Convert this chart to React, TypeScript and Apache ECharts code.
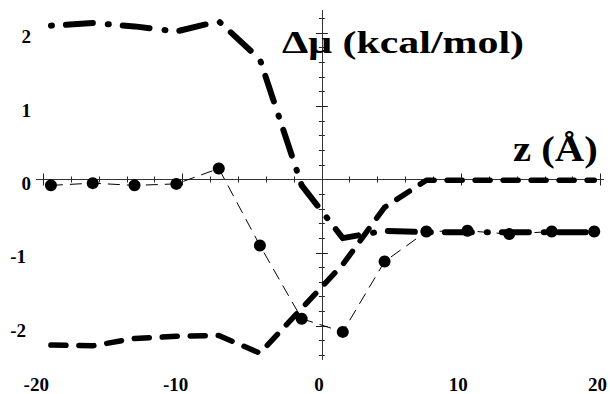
import React, { useEffect, useRef } from 'react';
import * as echarts from 'echarts';

// z positions (Å)
const zValues = [-19.45, -16.45, -13.45, -10.45, -7.4, -4.45, -1.45, 1.5, 4.5, 7.5, 10.45, 13.45, 16.5, 19.55];
// thick dash-dot curve (kcal/mol)
const dashDotValues = [2.1, 2.135, 2.09, 2.02, 2.16, 1.64, -0.08, -0.8, -0.7, -0.72, -0.72, -0.72, -0.72, -0.72];
// thick dashed curve (kcal/mol)
const dashedValues = [-2.26, -2.27, -2.17, -2.14, -2.13, -2.37, -1.76, -1.16, -0.38, -0.01, -0.01, -0.01, -0.01, -0.01];
// thin dashed curve with filled circles (kcal/mol)
const circleValues = [-0.08, -0.05, -0.08, -0.06, 0.15, -0.9, -1.9, -2.08, -1.12, -0.71, -0.7, -0.745, -0.71, -0.71];

const xMajorTicks = [-20, -10, 0, 10, 20];
const xMinorTicks = [-20, -18, -16, -14, -12, -10, -8, -6, -4, -2, 0, 2, 4, 6, 8, 10, 12, 14, 16, 18, 20];
const yMajorTicks = [-2, -1, 0, 1, 2];
const yMinorTicks = [-2.4, -2.2, -2, -1.8, -1.6, -1.4, -1.2, -1, -0.8, -0.6, -0.4, -0.2, 0, 0.2, 0.4, 0.6, 0.8, 1, 1.2, 1.4, 1.6, 1.8, 2, 2.2];

const titleText = 'Δμ (kcal/mol)';
const xTitleText = 'z (Å)';

const X_MIN = -20.45;
const X_MAX = 20.2;
const Y_MIN = -2.45;
const Y_MAX = 2.3;

const FONT = 'Liberation Serif';

const zip = (ys: number[]) => zValues.map((x, i) => [x, ys[i]]);

export default function App() {
  const ref = useRef<HTMLDivElement>(null);
  useEffect(() => {
    if (!ref.current) return;
    const chart = echarts.init(ref.current, undefined, { renderer: 'svg' });
    const frameLine = { show: true, lineStyle: { color: '#222', width: 1 } };
    const labelBase = {
      fontFamily: FONT,
      fontWeight: 'bold' as const,
      fontSize: 19,
      color: '#000',
    };
    const xAxisBase = {
      type: 'value' as const,
      min: X_MIN,
      max: X_MAX,
      splitLine: { show: false },
      axisLine: frameLine,
    };
    const yAxisBase = {
      type: 'value' as const,
      min: Y_MIN,
      max: Y_MAX,
      splitLine: { show: false },
      axisLine: frameLine,
    };
    chart.setOption({
      animation: false,
      backgroundColor: '#fff',
      grid: { left: 37, right: 4, top: 11, bottom: 31, containLabel: false },
      xAxis: [
        {
          ...xAxisBase,
          position: 'bottom',
          axisTick: { show: true, inside: true, length: 6, customValues: xMajorTicks, lineStyle: { color: '#222' } },
          axisLabel: {
            show: true,
            customValues: xMajorTicks,
            margin: 16,
            formatter: (v: number) => (v < 0 ? `{n|${v}}` : `{p|${v}}`),
            rich: {
              n: { ...labelBase, padding: [0, 14, 0, 0] },
              p: { ...labelBase, padding: [0, 6, 0, 0] },
            },
            ...labelBase,
          },
        },
        {
          ...xAxisBase,
          position: 'top',
          axisTick: { show: true, inside: true, length: 6, customValues: xMajorTicks, lineStyle: { color: '#222' } },
          axisLabel: { show: false },
        },
        {
          ...xAxisBase,
          position: 'top',
          axisTick: { show: true, inside: true, length: 3, customValues: xMinorTicks, lineStyle: { color: '#222' } },
          axisLabel: { show: false },
        },
        {
          ...xAxisBase,
          position: 'bottom',
          axisTick: { show: true, inside: true, length: 3, customValues: xMinorTicks, lineStyle: { color: '#222' } },
          axisLabel: { show: false },
        },
      ],
      yAxis: [
        {
          ...yAxisBase,
          position: 'left',
          axisTick: { show: true, inside: true, length: 6, customValues: yMajorTicks, lineStyle: { color: '#222' } },
          axisLabel: {
            show: true,
            customValues: yMajorTicks,
            margin: 6,
            verticalAlign: 'top',
            lineHeight: 8,
            formatter: (v: number) => (v < 0 ? `{n|${v}}` : `{p|${v}}`),
            rich: {
              n: { ...labelBase, lineHeight: 8, padding: [0, 5, 0, 0] },
              p: { ...labelBase, lineHeight: 8 },
            },
            ...labelBase,
          },
        },
        {
          ...yAxisBase,
          position: 'right',
          axisTick: { show: true, inside: true, length: 6, customValues: yMajorTicks, lineStyle: { color: '#222' } },
          axisLabel: { show: false },
        },
        {
          ...yAxisBase,
          position: 'right',
          axisTick: { show: true, inside: true, length: 3, customValues: yMinorTicks, lineStyle: { color: '#222' } },
          axisLabel: { show: false },
        },
        {
          ...yAxisBase,
          position: 'left',
          axisTick: { show: true, inside: true, length: 3, customValues: yMinorTicks, lineStyle: { color: '#222' } },
          axisLabel: { show: false },
        },
      ],
      series: [
        {
          name: 'dashed',
          type: 'line',
          xAxisIndex: 0,
          yAxisIndex: 0,
          data: zip(dashedValues),
          symbol: 'none',
          showSymbol: false,
          lineStyle: { color: '#000', width: 5.5, type: [15, 13], cap: 'round', join: 'round' },
          z: 3,
        },
        {
          name: 'dashdot',
          type: 'line',
          xAxisIndex: 0,
          yAxisIndex: 0,
          data: zip(dashDotValues),
          symbol: 'none',
          showSymbol: false,
          lineStyle: { color: '#000', width: 6, type: [27, 15, 1, 14], dashOffset: 42, cap: 'round', join: 'round' },
          z: 3,
        },
        {
          name: 'circles',
          type: 'line',
          xAxisIndex: 0,
          yAxisIndex: 0,
          data: zip(circleValues),
          symbol: 'circle',
          symbolSize: 12,
          showSymbol: true,
          itemStyle: { color: '#000', borderWidth: 0 },
          lineStyle: { color: '#000', width: 1, type: [12, 7] },
          z: 4,
          markLine: {
            silent: true,
            symbol: ['none', 'none'],
            label: { show: false },
            lineStyle: { color: '#333', width: 1, type: 'solid' },
            data: [{ xAxis: 0 }, { yAxis: 0 }],
            z: 1,
          },
        },
      ],
      graphic: [
        {
          type: 'text',
          x: 282,
          y: 42,
          scaleX: 1.31,
          z: 10,
          style: {
            text: titleText,
            fontFamily: FONT,
            fontWeight: 'bold',
            fontSize: 32,
            fill: '#000',
            verticalAlign: 'middle',
            align: 'left',
          },
        },
        {
          type: 'text',
          x: 513,
          y: 149,
          scaleX: 1.13,
          z: 10,
          style: {
            text: xTitleText,
            fontFamily: FONT,
            fontWeight: 'bold',
            fontSize: 36,
            fill: '#000',
            verticalAlign: 'middle',
            align: 'left',
          },
        },
      ],
    });
    return () => chart.dispose();
  }, []);
  return <div ref={ref} style={{ width: 610, height: 394, position: 'absolute', left: 0, top: 0 }} />;
}
